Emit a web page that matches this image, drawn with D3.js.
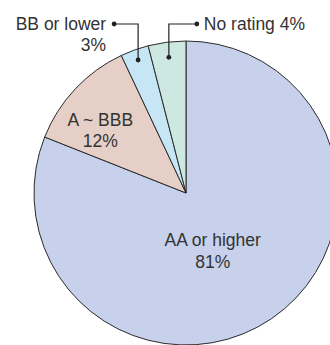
<!DOCTYPE html>
<html><head><meta charset="utf-8">
<script src="https://cdn.jsdelivr.net/npm/d3@7"></script>
<style>body{margin:0;background:#fff;}svg{display:block;}</style>
</head><body>
<script>
const categories = ["AA or higher", "A ~ BBB", "BB or lower", "No rating"];
const values = [81, 12, 3, 4];
const colors = ["#c7d1ec", "#e5cfc7", "#c6e6f6", "#cde7e1"];

const W = 330, H = 345;
const cx = 186, cy = 193, R = 152;
const svg = d3.select("body").append("svg").attr("width", W).attr("height", H);
const g = svg.append("g").attr("transform", `translate(${cx},${cy})`);

const pie = d3.pie().sort(null).value(d => d)(values);
const arc = d3.arc().innerRadius(0).outerRadius(R);

g.selectAll("path").data(pie).join("path")
  .attr("d", arc)
  .attr("fill", (d, i) => colors[i])
  .attr("stroke", "#2b2b2b")
  .attr("stroke-width", 1);

const font = "'Liberation Sans', Arial, Helvetica, sans-serif";
const fs = 17.5;
const tc = "#333";

function inner(i, rr) {
  const a = (pie[i].startAngle + pie[i].endAngle) / 2;
  return [rr * Math.sin(a), -rr * Math.cos(a)];
}

// AA or higher
{
  const [x, y] = inner(0, 0.5 * R);
  const t = g.append("text").attr("font-family", font).attr("font-size", fs).attr("fill", tc).attr("text-anchor", "middle");
  t.append("tspan").attr("x", x - 16).attr("y", y - 10).text(categories[0]);
  t.append("tspan").attr("x", x - 16).attr("y", y + 12).text(values[0] + "%");
}
// A ~ BBB
{
  const [x, y] = inner(1, 0.72 * R);
  const t = g.append("text").attr("font-family", font).attr("font-size", fs).attr("fill", tc).attr("text-anchor", "middle");
  t.append("tspan").attr("x", x - 6).attr("y", y + 8).text(categories[1]);
  t.append("tspan").attr("x", x - 6).attr("y", y + 29).text(values[1] + "%");
}

// leader labels
const lineY = 24 - cy;
function leader(i, side, rf) {
  const [px, py] = inner(i, rf * R);
  const endX = px + (side < 0 ? -24 : 28);
  g.append("path")
    .attr("d", `M${px},${py}V${lineY}H${endX}`)
    .attr("fill", "none").attr("stroke", "#222").attr("stroke-width", 1.2);
  g.append("circle").attr("cx", px).attr("cy", py).attr("r", 2.4).attr("fill", "#222");
  g.append("circle").attr("cx", endX).attr("cy", lineY).attr("r", 2.4).attr("fill", "#222");
  return endX;
}
{
  const endX = leader(2, -1, 0.93);
  const t = g.append("text").attr("font-family", font).attr("font-size", fs).attr("fill", tc).attr("text-anchor", "end");
  t.append("tspan").attr("x", endX - 8).attr("y", lineY + 5.5).text(categories[2]);
  t.append("tspan").attr("x", endX - 8).attr("y", lineY + 26.5).text(values[2] + "%");
}
{
  const endX = leader(3, 1, 0.9);
  g.append("text").attr("font-family", font).attr("font-size", fs).attr("fill", tc).attr("text-anchor", "start")
    .attr("x", endX + 7).attr("y", lineY + 5.5).text(categories[3] + " " + values[3] + "%");
}
</script>
</body></html>
